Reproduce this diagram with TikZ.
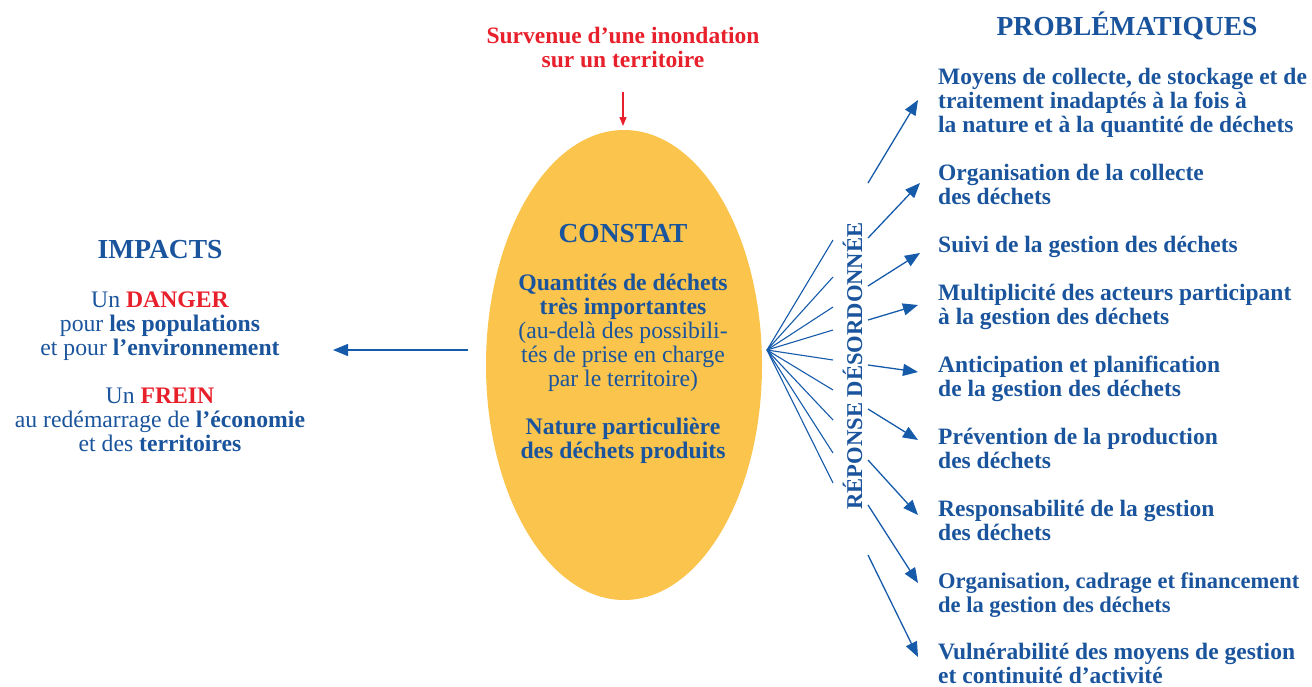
\documentclass[tikz,border=0pt]{standalone}
\usepackage{fontspec}
\setmainfont{Liberation Serif}
\usetikzlibrary{shapes.geometric,arrows.meta}
\definecolor{tblue}{RGB}{26,84,156}
\definecolor{ablue}{RGB}{22,90,170}
\definecolor{tred}{RGB}{232,32,44}
\definecolor{torange}{RGB}{251,196,76}
\begin{document}
\begin{tikzpicture}[x=1pt,y=-1pt,
  body/.style={font=\fontsize{23.7}{24}\selectfont, text=tblue, inner sep=0pt},
  item/.style={body, font=\fontsize{23.5}{24}\selectfont\bfseries, align=left, anchor=base west},
  title/.style={font=\fontsize{27.5}{30}\selectfont\bfseries, text=tblue, inner sep=0pt, anchor=base},
  fan/.style={draw=ablue, line width=1.1pt},
  arr/.style={draw=ablue, line width=1.3pt, -{Triangle[length=15pt,width=12pt]}},
  redarr/.style={draw=tred, line width=1.3pt, -{Triangle[length=9pt,width=7pt]}}]
\useasboundingbox (0,0) rectangle (1312,686);

% central ellipse
\node[ellipse, fill=torange, minimum width=276pt, minimum height=470pt, inner sep=0pt] (ell) at (624,365) {};

% top red text and arrow (anchor base = last line)
\node[body, font=\fontsize{23.5}{24}\selectfont\bfseries, text=tred, align=center, anchor=base] (event) at (623,67) {Survenue d’une inondation\\sur un territoire};
\coordinate (evs) at (623,92);
\coordinate (eve) at (623,126);
\draw[redarr] (evs) -- (eve);

% ellipse content
\node[title] (constat) at (623,242) {CONSTAT};
\node[body, align=center, anchor=base] (constxt) at (623,458) {\textbf{Quantités de déchets}\\\textbf{très importantes}\\(au-delà des possibili-\\tés de prise en charge\\par le territoire)\\[24pt]\textbf{Nature particulière}\\\textbf{des déchets produits}};

% left impacts
\node[title] (impacts) at (160,258) {IMPACTS};
\node[body, align=center, anchor=base] (imptxt) at (160,451) {Un \textbf{\color{tred}DANGER}\\pour \textbf{les populations}\\et pour \textbf{l’environnement}\\[24pt]Un \textbf{\color{tred}FREIN}\\au redémarrage de \textbf{l’économie}\\et des \textbf{territoires}};
\coordinate (las) at (468,350);
\coordinate (lae) at (333,350);
\draw[arr] (las) -- (lae);

% fan
\coordinate (fo) at (767,350);
\foreach \i/\y in {1/240,2/277,3/307,4/330,5/360,6/390,7/420,8/453,9/483}{
  \coordinate (f\i) at (833,\y);
  \draw[fan] (fo) -- (f\i);
}

% vertical label
\node[body, font=\fontsize{22.6}{24}\selectfont\bfseries, rotate=90, anchor=base] (rep) at (862,366) {RÉPONSE DÉSORDONNÉE};

% title right
\node[title] (prob) at (1127,35) {PROBLÉMATIQUES};

% items (anchor base = baseline of last line)
\node[item] (p1) at (938,132) {Moyens de collecte, de stockage et de\\traitement inadaptés à la fois à\\la nature et à la quantité de déchets};
\node[item] (p2) at (938,204) {Organisation de la collecte\\des déchets};
\node[item] (p3) at (938,252) {Suivi de la gestion des déchets};
\node[item] (p4) at (938,324) {Multiplicité des acteurs participant\\à la gestion des déchets};
\node[item] (p5) at (938,396) {Anticipation et planification\\de la gestion des déchets};
\node[item] (p6) at (938,468) {Prévention de la production\\des déchets};
\node[item] (p7) at (938,540) {Responsabilité de la gestion\\des déchets};
\node[item, font=\fontsize{22.5}{24}\selectfont\bfseries] (p8) at (938,612) {Organisation, cadrage et financement\\de la gestion des déchets};
\node[item] (p9) at (938,683) {Vulnérabilité des moyens de gestion\\et continuité d’activité};

% right arrows
\foreach \i/\ys/\xe/\ye in {1/183/918/100,2/238/920/183,3/286/920/253,4/320/918/305,5/365/918/372,6/409/918/440,7/460/918/515,8/505/918/583,9/555/918/657}{
  \coordinate (s\i) at (868,\ys);
  \coordinate (e\i) at (\xe,\ye);
  \draw[arr] (s\i) -- (e\i);
}
\end{tikzpicture}
\end{document}
